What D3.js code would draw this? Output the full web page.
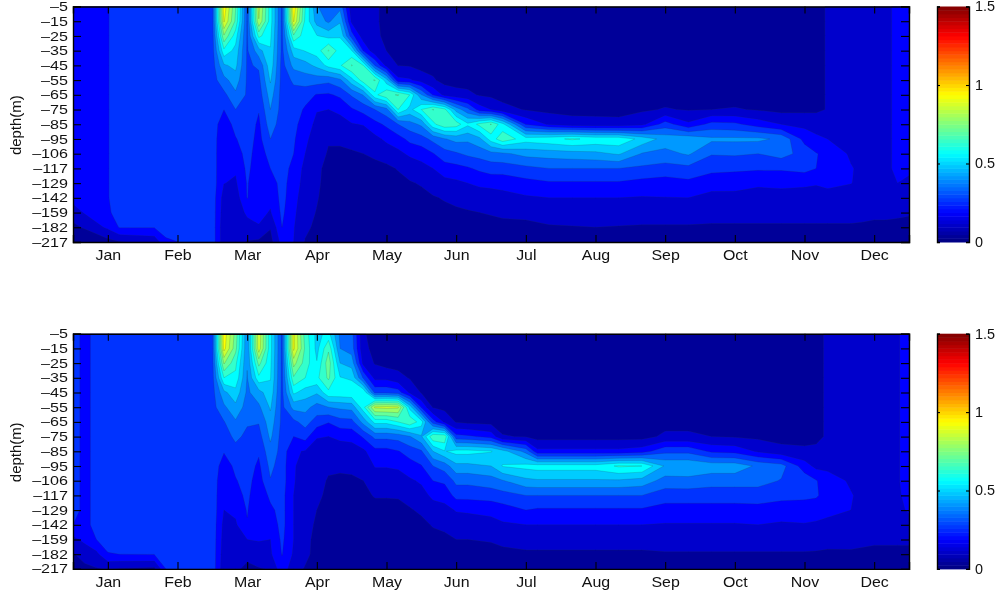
<!DOCTYPE html>
<html>
<head>
<meta charset="utf-8">
<script src="https://cdnjs.cloudflare.com/ajax/libs/d3/7.8.5/d3.min.js"></script>
<style>
  html, body { margin: 0; background: #fff; }
  svg { filter: blur(0.35px); }
  text { font-family: "Liberation Sans", Arial, sans-serif; font-size: 14.5px; fill: #111; }
</style>
</head>
<body>
<svg id="chart" width="1002" height="597"></svg>
<script>
const months = ['Jan', 'Feb', 'Mar', 'Apr', 'May', 'Jun', 'Jul', 'Aug', 'Sep', 'Oct', 'Nov', 'Dec'];
const monthTicks = [4, 10, 16, 22, 28, 34, 40, 46, 52, 58, 64, 70];
const depths = [-5, -15, -25, -35, -45, -55, -65, -75, -85, -95, -106, -117, -129, -142, -159, -182, -217];
const colorTicks = [0, 0.5, 1, 1.5];
const bandStep = 0.075;

// pentad of the year for each column below
const topPentads = [1, 4, 5, 8, 9, 13, 14, 15, 16, 17, 18, 19, 20, 21, 22, 23, 24, 25, 26, 27, 28, 29, 30, 31, 32, 33, 34, 35, 36, 37, 38, 40, 42, 44, 46, 48, 50, 52, 54, 56, 58, 60, 62, 64, 65, 66, 68, 69, 70, 71, 72, 73];
const topColumns = [
  [.2,.2,.2,.2,.2,.2,.2,.2,.2,.2,.2,.2,.2,.17,.125,.05,.03],
  [.222,.222,.222,.222,.222,.222,.222,.222,.222,.222,.222,.222,.222,.222,.215,.165,.05],
  [.25,.25,.25,.25,.25,.25,.25,.25,.25,.25,.25,.25,.25,.25,.25,.23,.07],
  [.26,.26,.26,.26,.26,.26,.26,.26,.26,.26,.26,.26,.26,.26,.26,.228,.10],
  [.26,.26,.26,.26,.26,.26,.26,.26,.26,.26,.26,.26,.26,.26,.26,.26,.21],
  [.265,.265,.265,.265,.265,.265,.265,.265,.265,.265,.265,.265,.265,.265,.265,.265,.265],
  [.95,.91,.74,.58,.44,.35,.28,.226,.18,.16,.155,.155,.152,.12,.11,.10,.10],
  [.68,.66,.56,.50,.47,.415,.36,.30,.25,.22,.19,.16,.14,.11,.12,.10,.10],
  [.29,.29,.29,.29,.29,.29,.29,.285,.27,.26,.25,.24,.23,.228,.16,.13,.07],
  [.85,.82,.62,.42,.31,.28,.26,.23,.21,.20,.19,.185,.18,.175,.17,.145,.06],
  [.56,.56,.54,.52,.50,.46,.41,.375,.34,.30,.25,.225,.19,.165,.145,.08,.05],
  [.28,.28,.28,.28,.27,.27,.27,.27,.26,.26,.26,.26,.25,.25,.24,.225,.18],
  [.96,.91,.66,.49,.40,.31,.28,.26,.245,.235,.225,.20,.19,.175,.165,.155,.15],
  [.60,.58,.56,.53,.42,.335,.255,.215,.19,.165,.15,.13,.12,.11,.10,.09,.07],
  [.38,.42,.53,.56,.47,.335,.22,.155,.13,.115,.10,.09,.085,.08,.072,.06,.05],
  [.34,.36,.50,.68,.55,.32,.215,.15,.125,.08,.07,.055,.055,.05,.05,.05,.05],
  [.35,.44,.52,.56,.59,.36,.24,.165,.125,.085,.065,.055,.05,.05,.05,.05,.05],
  [.10,.135,.26,.53,.68,.50,.31,.215,.145,.09,.07,.055,.05,.05,.05,.05,.05],
  [.09,.09,.11,.22,.60,.64,.38,.25,.155,.10,.075,.055,.05,.05,.05,.05,.05],
  [.078,.078,.08,.10,.30,.68,.58,.30,.20,.13,.085,.06,.05,.05,.05,.05,.05],
  [.07,.07,.07,.075,.13,.48,.66,.35,.24,.165,.11,.06,.05,.05,.05,.05,.05],
  [.05,.05,.05,.06,.074,.17,.68,.60,.30,.195,.13,.08,.055,.05,.05,.05,.05],
  [.05,.05,.05,.05,.07,.16,.60,.50,.345,.245,.165,.10,.07,.05,.05,.05,.05],
  [.05,.05,.05,.05,.05,.12,.38,.60,.39,.27,.18,.125,.08,.06,.05,.05,.05],
  [.05,.05,.05,.05,.05,.085,.22,.68,.58,.32,.22,.15,.10,.07,.05,.05,.05],
  [.05,.05,.05,.05,.05,.05,.13,.62,.66,.37,.27,.19,.125,.08,.06,.05,.05],
  [.05,.05,.05,.05,.05,.05,.10,.42,.64,.40,.29,.20,.135,.09,.065,.05,.05],
  [.05,.05,.05,.05,.05,.05,.09,.32,.54,.39,.315,.215,.15,.10,.07,.05,.05],
  [.05,.05,.05,.05,.05,.05,.07,.19,.62,.43,.33,.24,.165,.11,.075,.055,.05],
  [.05,.05,.05,.05,.05,.05,.06,.15,.68,.56,.35,.26,.17,.115,.08,.055,.05],
  [.05,.05,.05,.05,.05,.05,.05,.10,.55,.65,.36,.26,.175,.125,.085,.06,.05],
  [.05,.05,.05,.05,.05,.05,.05,.07,.22,.56,.40,.28,.20,.14,.09,.06,.05],
  [.05,.05,.05,.05,.05,.05,.05,.055,.14,.58,.41,.30,.215,.15,.10,.07,.05],
  [.05,.05,.05,.05,.05,.05,.05,.05,.11,.61,.42,.30,.215,.15,.105,.072,.05],
  [.05,.05,.05,.05,.05,.05,.05,.05,.105,.58,.43,.30,.215,.15,.105,.075,.05],
  [.05,.05,.05,.05,.05,.05,.05,.05,.10,.58,.46,.30,.215,.15,.105,.072,.05],
  [.05,.05,.05,.05,.05,.05,.05,.065,.13,.50,.37,.285,.20,.145,.10,.07,.05],
  [.05,.05,.05,.05,.05,.05,.05,.08,.26,.42,.35,.27,.19,.148,.10,.07,.05],
  [.05,.05,.05,.05,.05,.05,.05,.07,.165,.43,.385,.28,.205,.15,.10,.07,.05],
  [.05,.05,.05,.05,.05,.05,.05,.075,.25,.39,.305,.25,.17,.135,.09,.07,.05],
  [.05,.05,.05,.05,.05,.05,.05,.08,.24,.39,.31,.24,.175,.13,.09,.07,.05],
  [.05,.05,.05,.05,.05,.05,.05,.07,.19,.39,.30,.235,.16,.125,.09,.07,.05],
  [.05,.05,.05,.05,.05,.05,.05,.055,.15,.36,.33,.235,.165,.125,.09,.07,.05],
  [.05,.05,.05,.05,.05,.05,.05,.06,.13,.20,.27,.25,.16,.125,.09,.07,.05],
  [.06,.06,.06,.06,.06,.06,.06,.06,.13,.16,.23,.225,.155,.125,.09,.07,.05],
  [.08,.08,.08,.08,.08,.08,.08,.08,.115,.15,.20,.20,.165,.125,.09,.07,.05],
  [.10,.10,.10,.10,.10,.10,.10,.10,.10,.12,.14,.155,.152,.12,.09,.07,.05],
  [.11,.11,.11,.11,.11,.11,.11,.11,.11,.125,.13,.135,.135,.115,.088,.068,.05],
  [.125,.125,.125,.125,.125,.125,.125,.125,.125,.125,.125,.125,.13,.11,.085,.065,.05],
  [.145,.145,.145,.145,.145,.145,.145,.145,.145,.145,.145,.145,.13,.115,.085,.065,.05],
  [.155,.155,.155,.155,.155,.155,.155,.155,.155,.155,.155,.155,.15,.13,.085,.06,.05],
  [.16,.16,.16,.16,.16,.16,.16,.16,.16,.16,.16,.16,.14,.12,.08,.06,.05]
];

const bottomPentads = [1, 2, 3, 4, 5, 8, 9, 13, 14, 15, 16, 17, 18, 19, 20, 21, 22, 23, 24, 25, 26, 27, 28, 29, 30, 31, 32, 33, 34, 35, 37, 38, 40, 41, 46, 48, 50, 52, 54, 56, 58, 60, 62, 64, 65, 66, 68, 70, 72, 73];
const bottomColumns = [
  [.26,.26,.26,.26,.26,.26,.26,.26,.26,.26,.26,.26,.26,.225,.13,.07,.04],
  [.2,.2,.2,.2,.2,.2,.2,.2,.2,.2,.2,.2,.2,.2,.17,.10,.06],
  [.25,.25,.25,.25,.25,.25,.25,.25,.25,.25,.25,.25,.25,.25,.224,.13,.07],
  [.26,.26,.26,.26,.26,.26,.26,.26,.26,.26,.26,.26,.26,.26,.26,.22,.08],
  [.27,.27,.27,.27,.27,.27,.27,.27,.27,.27,.27,.27,.27,.27,.27,.225,.07],
  [.27,.27,.27,.27,.27,.27,.27,.27,.27,.27,.27,.27,.27,.27,.27,.228,.06],
  [.27,.27,.27,.27,.27,.27,.27,.27,.27,.27,.27,.27,.27,.27,.27,.27,.225],
  [.27,.27,.27,.27,.27,.27,.27,.27,.27,.27,.27,.27,.27,.27,.27,.27,.27],
  [.95,.93,.76,.60,.43,.36,.295,.26,.23,.19,.165,.155,.15,.13,.12,.11,.10],
  [.72,.70,.62,.58,.50,.43,.365,.32,.27,.24,.22,.2,.165,.14,.12,.11,.09],
  [.38,.38,.38,.37,.36,.34,.31,.28,.27,.26,.25,.24,.23,.22,.15,.10,.055],
  [.88,.87,.70,.58,.42,.36,.305,.27,.235,.21,.19,.175,.165,.155,.155,.12,.07],
  [.55,.55,.54,.53,.50,.46,.42,.39,.35,.32,.295,.24,.21,.18,.15,.14,.08],
  [.28,.28,.28,.28,.28,.28,.28,.27,.27,.26,.26,.25,.25,.25,.24,.228,.20],
  [.92,.92,.78,.665,.54,.40,.28,.225,.16,.155,.155,.15,.15,.15,.15,.14,.10],
  [.64,.66,.64,.60,.49,.40,.33,.255,.145,.13,.12,.115,.105,.10,.09,.09,.07],
  [.50,.50,.53,.58,.46,.345,.265,.155,.12,.105,.095,.09,.075,.065,.06,.055,.045],
  [.55,.66,.72,.69,.58,.375,.23,.15,.115,.085,.07,.06,.055,.05,.05,.05,.05],
  [.36,.375,.45,.53,.58,.39,.27,.165,.115,.085,.065,.055,.05,.05,.05,.05,.05],
  [.33,.34,.42,.51,.59,.40,.275,.17,.12,.09,.065,.055,.05,.05,.05,.05,.05],
  [.08,.09,.13,.29,.60,.57,.40,.235,.135,.095,.075,.06,.05,.05,.05,.05,.05],
  [.06,.06,.07,.13,.28,.84,.55,.32,.20,.155,.11,.08,.055,.05,.05,.05,.05],
  [.04,.04,.05,.13,.28,.85,.55,.32,.20,.155,.11,.08,.055,.05,.05,.05,.05],
  [.04,.04,.05,.10,.26,.84,.60,.33,.22,.16,.12,.08,.06,.05,.05,.05,.05],
  [.04,.04,.04,.07,.14,.50,.66,.37,.26,.19,.14,.095,.07,.05,.05,.05,.05],
  [.04,.04,.04,.05,.07,.22,.56,.44,.29,.22,.16,.125,.085,.06,.05,.05,.05],
  [.04,.04,.04,.04,.05,.07,.26,.66,.45,.30,.225,.165,.12,.08,.055,.05,.05],
  [.04,.04,.04,.04,.04,.055,.14,.66,.52,.335,.24,.175,.13,.09,.06,.05,.05],
  [.04,.04,.04,.04,.04,.04,.07,.25,.55,.43,.32,.25,.155,.115,.075,.055,.05],
  [.04,.04,.04,.04,.04,.04,.06,.24,.55,.43,.32,.25,.16,.115,.075,.055,.05],
  [.04,.04,.04,.04,.04,.04,.05,.20,.53,.45,.34,.26,.17,.125,.08,.055,.05],
  [.04,.04,.04,.04,.04,.04,.05,.08,.48,.53,.37,.27,.19,.14,.09,.06,.05],
  [.04,.04,.04,.04,.04,.04,.05,.07,.35,.55,.43,.30,.225,.15,.10,.065,.05],
  [.04,.04,.04,.04,.04,.04,.05,.05,.17,.56,.44,.30,.215,.15,.10,.065,.05],
  [.04,.04,.04,.04,.04,.04,.05,.05,.17,.56,.44,.30,.215,.15,.10,.065,.05],
  [.04,.04,.04,.04,.04,.04,.05,.05,.17,.61,.44,.30,.215,.15,.10,.065,.05],
  [.04,.04,.04,.04,.04,.04,.05,.05,.19,.60,.42,.30,.215,.15,.10,.065,.05],
  [.04,.04,.04,.04,.04,.04,.05,.09,.28,.44,.345,.26,.195,.145,.10,.07,.05],
  [.04,.04,.04,.04,.04,.04,.05,.09,.28,.44,.35,.26,.195,.145,.10,.07,.05],
  [.04,.04,.04,.04,.04,.04,.05,.075,.21,.42,.33,.26,.195,.145,.10,.07,.05],
  [.04,.04,.04,.04,.04,.04,.05,.07,.20,.42,.33,.26,.195,.145,.10,.07,.05],
  [.04,.04,.04,.04,.04,.04,.05,.06,.14,.36,.33,.26,.20,.15,.10,.07,.05],
  [.04,.04,.04,.04,.04,.04,.05,.05,.10,.33,.295,.245,.19,.14,.10,.07,.05],
  [.05,.05,.05,.05,.05,.05,.05,.05,.09,.185,.27,.24,.19,.145,.10,.07,.05],
  [.07,.07,.07,.07,.07,.07,.07,.07,.08,.13,.23,.235,.18,.14,.10,.068,.05],
  [.078,.078,.078,.078,.078,.078,.078,.078,.085,.13,.185,.19,.165,.135,.095,.065,.05],
  [.095,.095,.095,.095,.095,.095,.095,.095,.095,.12,.14,.155,.15,.12,.09,.068,.05],
  [.11,.11,.11,.11,.11,.11,.11,.11,.11,.11,.11,.11,.12,.10,.085,.06,.05],
  [.145,.145,.145,.145,.145,.145,.145,.145,.145,.145,.145,.14,.13,.105,.085,.06,.05],
  [.17,.17,.17,.17,.17,.17,.17,.17,.17,.17,.17,.17,.16,.12,.085,.06,.05]
];

const margin = { left: 73, right: 909, barLeft: 937, barRight: 969 };
const clamp01 = v => Math.max(0, Math.min(1, v));

// same ramp as matlab's jet
function jet (t) {
  return d3.rgb(
    255 * clamp01(Math.min(4 * t - 1.5, -4 * t + 4.5)),
    255 * clamp01(Math.min(4 * t - 0.5, -4 * t + 3.5)),
    255 * clamp01(Math.min(4 * t + 0.5, -4 * t + 2.5))
  ).formatRgb();
}

// labels in the original are wide for their height
function stretchLabels (sel, size, stretch) {
  sel.selectAll('.tick text')
    .attr('font-size', null).attr('font-family', null)
    .style('font-size', size + 'px')
    .attr('x', function () { return +d3.select(this).attr('x') / stretch; })
    .attr('transform', `scale(${stretch},1)`);
}

const svg = d3.select('#chart');
const levels = d3.range(0, 20).map(i => i * bandStep);
const valueToRamp = d3.scaleLinear().domain([0, 1.5]).range([0, 1]);
const x = d3.scaleLinear().domain([1, 73]).range([margin.left, margin.right]);

function drawPanel (id, top, bottom, pentads, columns) {
  let g = svg.append('g').attr('class', 'panel-' + id);
  let y = d3.scaleLinear().domain([0, depths.length - 1]).range([top, bottom]);

  // d3.contours puts cell i at i + 0.5, columns are not evenly spaced in time
  let colToPentad = d3.scaleLinear().domain(pentads.map((p, i) => i + 0.5)).range(pentads).clamp(true);
  let rowToIndex = d3.scaleLinear().domain([0.5, depths.length - 0.5]).range([0, depths.length - 1]).clamp(true);
  let path = d3.geoPath(d3.geoTransform({
    point (cx, cy) {
      this.stream.point(x(colToPentad(cx)), y(rowToIndex(cy)));
    }
  }));

  let values = [];
  depths.forEach((d, r) => columns.forEach(col => values.push(col[r])));
  let contours = d3.contours().size([columns.length, depths.length]).thresholds(levels)(values);

  g.append('clipPath').attr('id', 'clip-' + id)
    .append('rect')
    .attr('x', margin.left).attr('y', top)
    .attr('width', margin.right - margin.left).attr('height', bottom - top);

  g.append('g').attr('clip-path', `url(#clip-${id})`)
    .selectAll('path')
    .data(contours)
    .join('path')
    .attr('d', path)
    .attr('fill', d => jet(valueToRamp(d.value + bandStep / 2)))
    .attr('stroke', d => d.value > 0 ? 'rgba(40,60,60,0.35)' : 'none')
    .attr('stroke-width', 0.5);

  let xAxis = g.append('g').attr('transform', `translate(0,${bottom})`)
    .call(d3.axisBottom(x).tickValues(monthTicks).tickFormat((d, i) => months[i]).tickSize(-7).tickPadding(8));
  let yAxis = g.append('g').attr('transform', `translate(${margin.left},0)`)
    .call(d3.axisLeft(y).tickValues(d3.range(depths.length)).tickFormat(i => '\u2013' + Math.abs(depths[i])).tickSize(-8).tickPadding(5));

  g.append('g').attr('transform', `translate(0,${top})`)
    .call(d3.axisTop(x).tickValues(monthTicks).tickFormat('').tickSize(-7));
  g.append('g').attr('transform', `translate(${margin.right},0)`)
    .call(d3.axisRight(y).tickValues(d3.range(depths.length)).tickFormat('').tickSize(-8));

  g.append('text')
    .attr('transform', `translate(21,${(top + bottom) / 2 + 1}) rotate(-90) scale(1.03,1)`)
    .attr('text-anchor', 'middle')
    .text('depth(m)');

  // colorbar
  let bar = d3.scaleLinear().domain([0, 1.5]).range([bottom, top]);
  let steps = d3.range(64);
  g.append('g').selectAll('rect')
    .data(steps)
    .join('rect')
    .attr('x', margin.barLeft)
    .attr('width', margin.barRight - margin.barLeft)
    .attr('y', i => bar((i + 1) * 1.5 / 64))
    .attr('height', i => bar(i * 1.5 / 64) - bar((i + 1) * 1.5 / 64) + 0.5)
    .attr('fill', i => jet((i + 0.5) / 64));
  let barAxis = g.append('g').attr('transform', `translate(${margin.barRight},0)`)
    .call(d3.axisRight(bar).tickValues(colorTicks).tickFormat(d3.format('')).tickSize(-3).tickPadding(6));
  g.append('g').attr('transform', `translate(${margin.barLeft},0)`)
    .call(d3.axisLeft(bar).tickValues(colorTicks).tickFormat('').tickSize(-3));

  g.selectAll('.domain').attr('stroke', '#000').attr('stroke-width', 1.4);
  g.selectAll('.tick line').attr('stroke', '#000').attr('stroke-width', 1.1);

  stretchLabels(xAxis, 14.5, 1.1);
  stretchLabels(yAxis, 12.7, 1.27);
  stretchLabels(barAxis, 14, 1.03);
}

drawPanel('top', 6.5, 242, topPentads, topColumns);
drawPanel('bottom', 333.7, 568.9, bottomPentads, bottomColumns);
</script>
</body>
</html>
